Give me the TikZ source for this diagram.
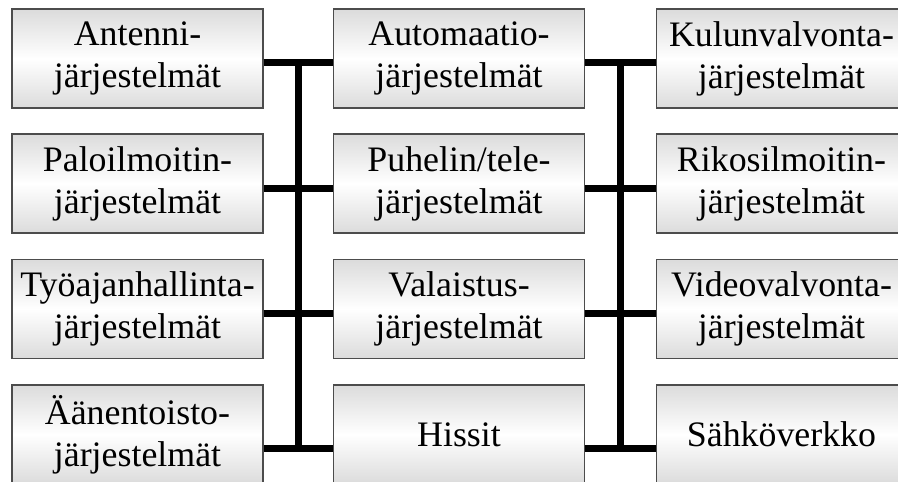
\documentclass[tikz,border=0pt]{standalone}
\usepackage{fontspec}
\setmainfont{Liberation Serif}
\usepackage{tikz}
\usetikzlibrary{positioning}

\begin{document}
\begin{tikzpicture}[x=0.02cm,y=-0.02cm,
    sys node/.style={rectangle,draw=gray!60!black,line width=0.6pt,
      top color=gray!28,bottom color=gray!28,middle color=white,
      minimum width=5.02cm,minimum height=1.98cm,inner sep=0pt,
      align=center,font=\fontsize{20.4pt}{24pt}\selectfont},
    bus/.style={-,line width=0.14cm,black}]
    \clip (0,0) rectangle (898,481);
    \fill[white] (0,0) rectangle (898,481);
    \begin{scope}
      % vasen sarake
      \node[sys node] (l1) at (137.5,58.5) {Antenni-\\järjestelmät};
      \node[sys node] (l2) at (137.5,183.5) {Paloilmoitin-\\järjestelmät};
      \node[sys node] (l3) at (137.5,309) {Työajanhallinta-\\järjestelmät};
      \node[sys node] (l4) at (137.5,434.5) {Äänentoisto-\\järjestelmät};
      % keskisarake
      \node[sys node] (m1) at (459,58.5) {Automaatio-\\järjestelmät};
      \node[sys node] (m2) at (459,183.5) {Puhelin/tele-\\järjestelmät};
      \node[sys node] (m3) at (459,309) {Valaistus-\\järjestelmät};
      \node[sys node] (m4) at (459,434.5) {Hissit};
      % oikea sarake
      \node[sys node] (r1) at (781.5,58.5) {Kulunvalvonta-\\järjestelmät};
      \node[sys node] (r2) at (781.5,183.5) {Rikosilmoitin-\\järjestelmät};
      \node[sys node] (r3) at (781.5,309) {Videovalvonta-\\järjestelmät};
      \node[sys node] (r4) at (781.5,434.5) {Sähköverkko};

      \coordinate (a top) at (298,62);
      \coordinate (a bot) at (298,448);
      \coordinate (b top) at (620,62);
      \coordinate (b bot) at (620,448);

      \path[bus] ([yshift=-0.07cm]l1.east) edge ([yshift=-0.07cm]m1.west);
      \path[bus] ([yshift=-0.09cm]l2.east) edge ([yshift=-0.09cm]m2.west);
      \path[bus] ([yshift=-0.08cm]l3.east) edge ([yshift=-0.08cm]m3.west);
      \path[bus] ([yshift=-0.27cm]l4.east) edge ([yshift=-0.27cm]m4.west);
      \path[bus] ([yshift=-0.07cm]m1.east) edge ([yshift=-0.07cm]r1.west);
      \path[bus] ([yshift=-0.09cm]m2.east) edge ([yshift=-0.09cm]r2.west);
      \path[bus] ([yshift=-0.08cm]m3.east) edge ([yshift=-0.08cm]r3.west);
      \path[bus] ([yshift=-0.27cm]m4.east) edge ([yshift=-0.27cm]r4.west);
      \path[bus] (a top) edge (a bot);
      \path[bus] (b top) edge (b bot);
    \end{scope}
  \end{tikzpicture}
\end{document}
